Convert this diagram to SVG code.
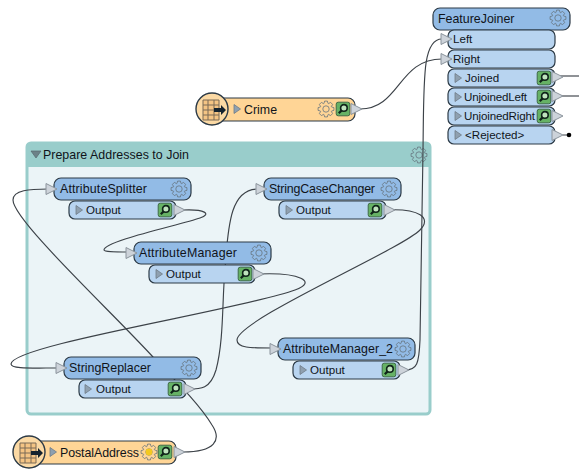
<svg xmlns="http://www.w3.org/2000/svg" xmlns:xlink="http://www.w3.org/1999/xlink" width="579" height="472" viewBox="0 0 579 472">
<style>
text{font-family:"Liberation Sans",Arial,sans-serif;font-size:12.4px;fill:#10141a}
text.o{font-size:11.6px}
.h{fill:#92bbe6;stroke:#2c3a46;stroke-width:1.2}
.p{fill:#b8d4f0;stroke:#2c3a46;stroke-width:1.2}
.s{fill:#ffd596;stroke:#2c3a46;stroke-width:1.2}
.c{fill:#fbd9a4;stroke:#2c3a46;stroke-width:1.4}
.t{fill:#cdd3da;stroke:#8b949c;stroke-width:1}
.m{fill:#8fa0b0;stroke:#6f7b86;stroke-width:.8}
.g{fill:none;stroke:#66737e;stroke-width:.8}
.w{fill:none;stroke:#3c4248;stroke-width:1.15}
</style>
<defs>
<g id="gear"><path class="g" d="M5.6,-2 7.9,-1.4 7.9,1.4 5.6,2 5.4,2.5 6.6,4.6 4.6,6.6 2.5,5.4 2,5.6 1.4,7.9 -1.4,7.9 -2,5.6 -2.5,5.4 -4.6,6.6 -6.6,4.6 -5.4,2.5 -5.6,2 -7.9,1.4 -7.9,-1.4 -5.6,-2 -5.4,-2.5 -6.6,-4.6 -4.6,-6.6 -2.5,-5.4 -2,-5.6 -1.4,-7.9 1.4,-7.9 2,-5.6 2.5,-5.4 4.6,-6.6 6.6,-4.6 5.4,-2.5Z"/><circle class="g" r="3.2"/></g>
<g id="insp"><rect x="-6.8" y="-6.8" width="13.6" height="13.6" rx="2" fill="#66b265" stroke="#3f6a47"/><circle cx=".9" cy="-1.1" r="3.3" fill="#bfe3bd" stroke="#10241a" stroke-width="1.6"/><path d="M-1.4,1.4 -4.2,4.2" stroke="#10241a" stroke-width="2.2"/></g>
<path id="tri" class="t" d="M0,-5.5 11,0 0,5.5Z"/>
<path id="mini" class="m" d="M0,-4.5 6.5,0 0,4.5Z"/>
<g id="tbl"><circle class="c" r="16"/><path d="M-9,-9H7V11H-9Z" fill="#f4c484" stroke="#7b6a56"/><path d="M-9,-4H7M-9,1H7M-9,6H7M-4,-9V11M2,-9V11" stroke="#7b6a56" fill="none"/><path d="M2,-1H9V-4L14,1 9,6V3H2Z" fill="#14222e"/></g>
</defs>

<g id="bookmark">
<rect x="27" y="143" width="403" height="271" rx="4" fill="#ebf4f7" stroke="#99cdcb" stroke-width="3"/>
<path d="M27,167V147Q27,143 31,143H426Q430,143 430,147V167Z" fill="#99cdcb"/>
<path d="M31,151H41L36,158Z" fill="#6c8288" stroke="#56686e" stroke-width=".7"/>
<text x="43" y="159" textLength="146">Prepare Addresses to Join</text>
<use xlink:href="#gear" href="#gear" transform="translate(419,155)"/>
</g>

<g id="connectors" class="w">
<path class="w" d="M360,109C400,109 398,59 442,59"/>
<path class="w" d="M405,370C417,370 419,364 420,340L423,150C424,80 422,39 442,39"/>
<path class="w" d="M183,210C205,209 212,214 200,218C180,225 104,241 104,250C104,252 115,252 128,252"/>
<path class="w" d="M258,274C300,272 318,282 295,290C240,310 11,345 11,364C11,369 30,368 58,368"/>
<path class="w" d="M385,210C420,208 432,218 420,230C400,250 237,320 237,340C237,348 250,348 272,348"/>
<path class="w" d="M183,452C215,452 222,440 212,425C200,405 175,380 153,357C110,310 13,220 13,200C13,190 30,189 48,189"/>
<path class="w" d="M186,389C200,389 210,390 216,370C224,340 222,300 225,270C228,220 232,189 258,189"/>
<path class="w" d="M560,76C566,76 572,76 579,76"/>
<path class="w" d="M560,96C566,96 572,96 579,96"/>
</g>

<g id="crime">
<rect class="s" x="212" y="98" width="143" height="23" rx="7"/>
<use xlink:href="#tbl" href="#tbl" transform="translate(212,109)"/>
<use xlink:href="#mini" href="#mini" transform="translate(234,109)"/>
<text x="244" y="114">Crime</text>
<use xlink:href="#gear" href="#gear" transform="translate(326,109)"/>
<use xlink:href="#insp" href="#insp" transform="translate(343,109)"/>
<use xlink:href="#tri" href="#tri" transform="translate(351,109)"/>
</g>

<g id="postaladdress">
<rect class="s" x="29" y="441" width="147" height="23" rx="7"/>
<use xlink:href="#tbl" href="#tbl" transform="translate(29,452)"/>
<use xlink:href="#mini" href="#mini" transform="translate(50,452)"/>
<text x="60" y="457" textLength="79">PostalAddress</text>
<use xlink:href="#gear" href="#gear" transform="translate(149,452)"/>
<circle cx="149" cy="452" r="3.4" fill="#f4c91f"/>
<use xlink:href="#insp" href="#insp" transform="translate(165,452)"/>
<use xlink:href="#tri" href="#tri" transform="translate(174,452)"/>
</g>

<g id="featurejoiner">
<rect class="h" x="433" y="8" width="137" height="22" rx="7"/>
<text x="438" y="23">FeatureJoiner</text>
<use xlink:href="#gear" href="#gear" transform="translate(558,18)"/>
<rect class="p" x="448" y="30" width="107" height="19" rx="6"/>
<use xlink:href="#tri" href="#tri" transform="translate(441,39)"/>
<text class="o" x="453" y="43">Left</text>
<rect class="p" x="448" y="50" width="107" height="18" rx="6"/>
<use xlink:href="#tri" href="#tri" transform="translate(441,59)"/>
<text class="o" x="453" y="63">Right</text>
<rect class="p" x="448" y="69" width="107" height="18" rx="6"/>
<use xlink:href="#mini" href="#mini" transform="translate(455,78)"/>
<text class="o" x="465" y="82">Joined</text>
<use xlink:href="#insp" href="#insp" transform="translate(544,78)"/>
<use xlink:href="#tri" href="#tri" transform="translate(552,77)"/>
<rect class="p" x="448" y="88" width="107" height="18" rx="6"/>
<use xlink:href="#mini" href="#mini" transform="translate(455,97)"/>
<text class="o" x="464" y="101" textLength="63">UnjoinedLeft</text>
<use xlink:href="#insp" href="#insp" transform="translate(544,97)"/>
<use xlink:href="#tri" href="#tri" transform="translate(552,96)"/>
<rect class="p" x="448" y="107" width="107" height="18" rx="6"/>
<use xlink:href="#mini" href="#mini" transform="translate(455,116)"/>
<text class="o" x="464" y="120" textLength="71">UnjoinedRight</text>
<use xlink:href="#insp" href="#insp" transform="translate(544,116)"/>
<use xlink:href="#tri" href="#tri" transform="translate(552,116)"/>
<rect class="p" x="448" y="126" width="107" height="18" rx="6"/>
<use xlink:href="#mini" href="#mini" transform="translate(455,135)"/>
<text class="o" x="465" y="139">&lt;Rejected&gt;</text>
<use xlink:href="#tri" href="#tri" transform="translate(552,135)"/>
<path d="M563,135H569" stroke="#3c4248"/>
<circle cx="569" cy="135" r="2.3" fill="#000"/>
</g>

<g id="attributesplitter">
<rect class="h" x="54" y="178" width="137" height="22" rx="7"/>
<use xlink:href="#tri" href="#tri" transform="translate(46,189)"/>
<text x="60" y="193" textLength="87">AttributeSplitter</text>
<use xlink:href="#gear" href="#gear" transform="translate(179,189)"/>
<rect class="p" x="69" y="201" width="107" height="18" rx="6"/>
<use xlink:href="#mini" href="#mini" transform="translate(76,210)"/>
<text class="o" x="86" y="214">Output</text>
<use xlink:href="#insp" href="#insp" transform="translate(165,210)"/>
<use xlink:href="#tri" href="#tri" transform="translate(174,210)"/>
</g>

<g id="attributemanager">
<rect class="h" x="134" y="242" width="137" height="22" rx="7"/>
<use xlink:href="#tri" href="#tri" transform="translate(126,253)"/>
<text x="139" y="257" textLength="98">AttributeManager</text>
<use xlink:href="#gear" href="#gear" transform="translate(259,253)"/>
<rect class="p" x="149" y="265" width="106" height="18" rx="6"/>
<use xlink:href="#mini" href="#mini" transform="translate(156,274)"/>
<text class="o" x="166" y="278">Output</text>
<use xlink:href="#insp" href="#insp" transform="translate(245,274)"/>
<use xlink:href="#tri" href="#tri" transform="translate(253,274)"/>
</g>

<g id="stringcasechanger">
<rect class="h" x="264" y="178" width="137" height="22" rx="7"/>
<use xlink:href="#tri" href="#tri" transform="translate(256,189)"/>
<text x="269" y="193" textLength="106">StringCaseChanger</text>
<use xlink:href="#gear" href="#gear" transform="translate(389,189)"/>
<rect class="p" x="279" y="201" width="107" height="18" rx="6"/>
<use xlink:href="#mini" href="#mini" transform="translate(286,210)"/>
<text class="o" x="296" y="214">Output</text>
<use xlink:href="#insp" href="#insp" transform="translate(375,210)"/>
<use xlink:href="#tri" href="#tri" transform="translate(384,210)"/>
</g>

<g id="stringreplacer">
<rect class="h" x="64" y="357" width="137" height="22" rx="7"/>
<use xlink:href="#tri" href="#tri" transform="translate(56,368)"/>
<text x="69" y="372">StringReplacer</text>
<use xlink:href="#gear" href="#gear" transform="translate(189,368)"/>
<rect class="p" x="79" y="380" width="107" height="18" rx="6"/>
<use xlink:href="#mini" href="#mini" transform="translate(85,389)"/>
<text class="o" x="96" y="393">Output</text>
<use xlink:href="#insp" href="#insp" transform="translate(175,389)"/>
<use xlink:href="#tri" href="#tri" transform="translate(184,389)"/>
</g>

<g id="attributemanager_2">
<rect class="h" x="278" y="338" width="137" height="22" rx="7"/>
<use xlink:href="#tri" href="#tri" transform="translate(270,349)"/>
<text x="283" y="353" textLength="110">AttributeManager_2</text>
<use xlink:href="#gear" href="#gear" transform="translate(403,349)"/>
<rect class="p" x="293" y="361" width="107" height="18" rx="6"/>
<use xlink:href="#mini" href="#mini" transform="translate(300,370)"/>
<text class="o" x="310" y="374">Output</text>
<use xlink:href="#insp" href="#insp" transform="translate(389,370)"/>
<use xlink:href="#tri" href="#tri" transform="translate(398,370)"/>
</g>
</svg>
